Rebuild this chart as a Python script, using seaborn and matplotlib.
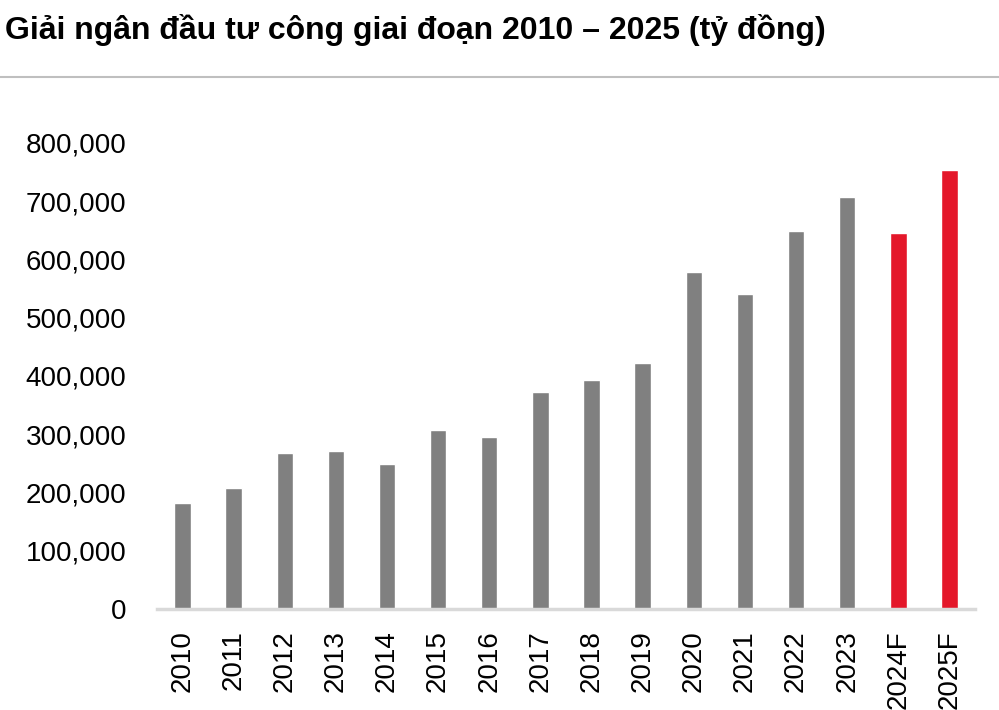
import matplotlib
matplotlib.use("Agg")
import matplotlib.pyplot as plt
import seaborn as sns
import pandas as pd
from matplotlib import font_manager
from matplotlib.lines import Line2D

years = ["2010", "2011", "2012", "2013", "2014", "2015", "2016", "2017",
         "2018", "2019", "2020", "2021", "2022", "2023", "2024F", "2025F"]
values = [182000, 208000, 268000, 271000, 249000, 307000, 295000, 372000,
          393000, 422000, 578000, 541000, 649000, 707000, 645000, 754000]
kind = ["actual"] * 14 + ["forecast"] * 2
title = "Giải ngân đầu tư công giai đoạn 2010 – 2025 (tỷ đồng)"

df = pd.DataFrame({"year": years, "value": values, "kind": kind})

sns.set_theme(style="white")
names = {f.name for f in font_manager.fontManager.ttflist}
fam = "Liberation Sans Narrow" if "Liberation Sans Narrow" in names else "Liberation Sans"
plt.rcParams["font.family"] = [fam, "DejaVu Sans"]
plt.rcParams["text.color"] = "black"

fig = plt.figure(figsize=(9.99, 7.10), dpi=100)
ax = fig.add_axes([0.157, 0.142, 0.819, 0.657])

sns.barplot(data=df, x="year", y="value", hue="kind",
            palette={"actual": "#808080", "forecast": "#E4172A"},
            width=0.32, dodge=False, legend=False, ax=ax, saturation=1)

ax.set_xlim(-0.5, len(years) - 0.5)
ax.set_ylim(0, 800000)
ax.set_yticks(range(0, 800001, 100000))
ax.set_yticklabels([f"{v:,}" for v in range(0, 800001, 100000)], fontsize=20, color="black")
ax.set_xticks(range(len(years)))
ax.set_xticklabels(years, rotation=90, fontsize=20, color="black")
ax.tick_params(axis="y", length=0, pad=22)
ax.tick_params(axis="x", length=0, pad=15)
ax.set_xlabel("")
ax.set_ylabel("")
for s in ["top", "right", "left"]:
    ax.spines[s].set_visible(False)
ax.spines["bottom"].set_color("#D9D9D9")
ax.spines["bottom"].set_linewidth(2.5)
ax.grid(False)

fig.text(0.005, 0.945, title, fontsize=23, fontweight="bold",
         color="black", ha="left", va="baseline")
fig.add_artist(Line2D([0, 1], [0.892, 0.892], color="#BFBFBF", lw=1.5, transform=fig.transFigure))

fig.savefig("out.png", dpi=100)
